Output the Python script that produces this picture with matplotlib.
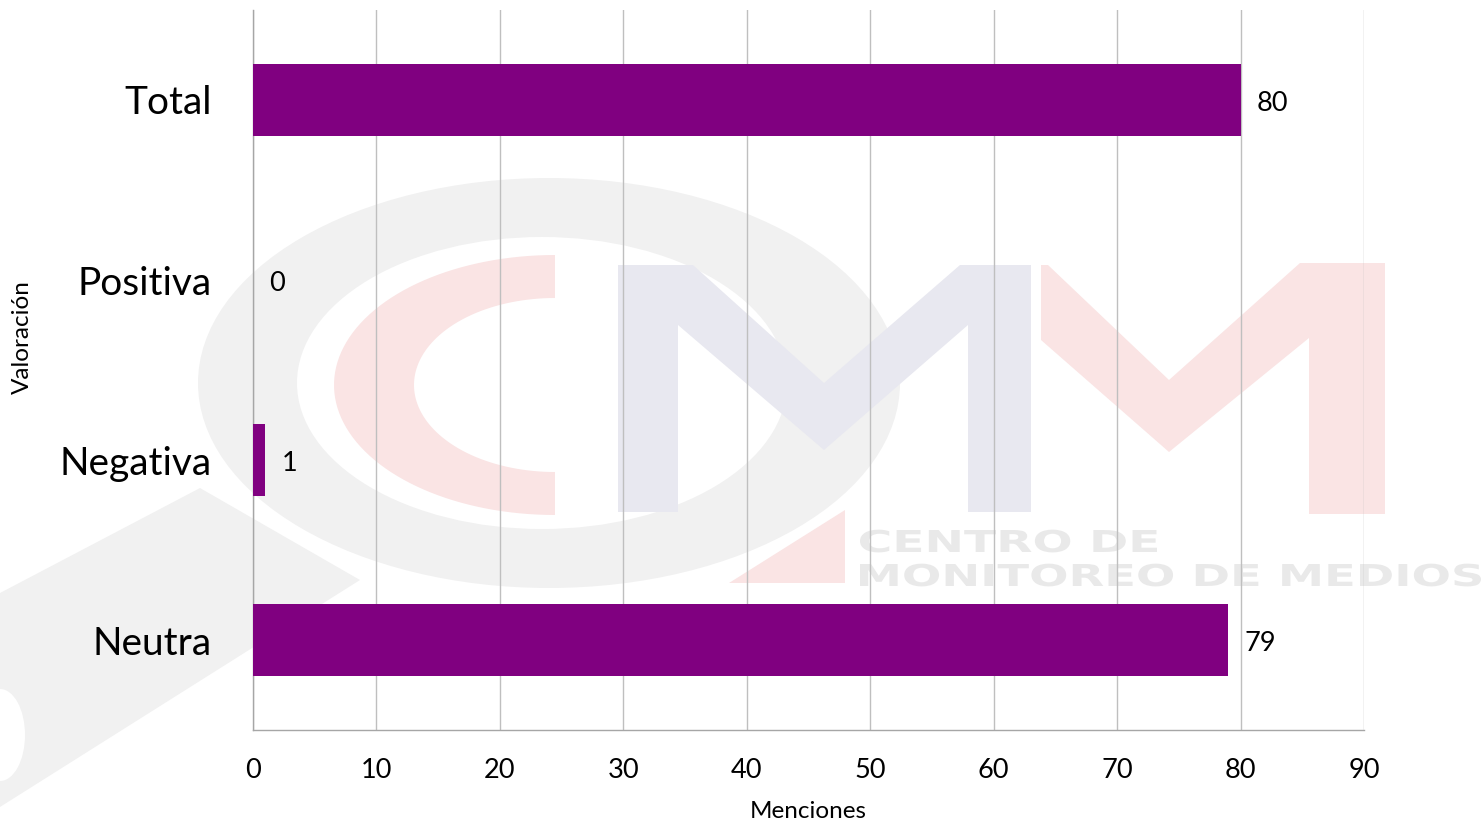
import matplotlib
matplotlib.use("Agg")
import matplotlib.pyplot as plt
from matplotlib.patches import Ellipse, Polygon, PathPatch
from matplotlib.transforms import IdentityTransform, Affine2D
from matplotlib.textpath import TextPath
from matplotlib.font_manager import FontProperties
import numpy as np

plt.rcParams['font.family'] = ['Lato', 'DejaVu Sans']

categories = ["Neutra", "Negativa", "Positiva", "Total"]
values = [79, 1, 0, 80]
xticks = [0, 10, 20, 30, 40, 50, 60, 70, 80, 90]
bar_color = "#800080"

W, H = 1481, 822
fig = plt.figure(figsize=(W / 100, H / 100), dpi=100)
fig.patch.set_facecolor("white")

def fx(x):
    return x / W

def fy(y):
    return 1 - y / H

ID = IdentityTransform()

def pix(pts):
    return [(x, H - y) for x, y in pts]

def add_bg(artist):
    artist.set_zorder(-10)
    fig.add_artist(artist)

GREY = "#f1f1f1"
PINK = "#fae4e4"
BLUE = "#e8e8f0"

# --- faint watermark (background decoration) ---
# magnifier handle
add_bg(Polygon(pix([(0, 593), (200, 488), (360, 580), (0, 807)]), closed=True,
               facecolor=GREY, edgecolor="none", transform=ID))
add_bg(Ellipse((0, H - 735), 50, 92, facecolor="white", edgecolor="none", transform=ID))
# ring
add_bg(Ellipse((549, H - 383), 702, 410, facecolor=GREY, edgecolor="none", transform=ID))
add_bg(Ellipse((542, H - 383), 490, 292, facecolor="white", edgecolor="none", transform=ID))

# pink C (half elliptical ring)
t = np.linspace(np.pi / 2, 3 * np.pi / 2, 80)
outer = [(555 + 221 * np.cos(a), 385 - 130 * np.sin(a)) for a in t]
inner = [(555 + 141 * np.cos(a), 385 - 87 * np.sin(a)) for a in t[::-1]]
add_bg(Polygon(pix(outer + inner), closed=True, facecolor=PINK, edgecolor="none", transform=ID))

# grey-blue M
add_bg(Polygon(pix([(618, 512), (618, 265), (693, 265), (824, 383), (960, 265), (1031, 265),
                    (1031, 512), (968, 512), (968, 325), (824, 450), (678, 325), (678, 512)]),
               closed=True, facecolor=BLUE, edgecolor="none", transform=ID))
# pink M
add_bg(Polygon(pix([(1041, 340), (1041, 265), (1048, 265), (1169, 380), (1300, 263), (1385, 263),
                    (1385, 514), (1309, 514), (1309, 338), (1169, 452)]),
               closed=True, facecolor=PINK, edgecolor="none", transform=ID))
add_bg(Polygon(pix([(729, 583), (845, 510), (845, 583)]), closed=True,
               facecolor=PINK, edgecolor="none", transform=ID))

# watermark lettering, stretched to fit
fp = FontProperties(family="DejaVu Sans", weight="bold")
for s, x0, x1, ybase in [("CENTRO DE", 860, 1157, 552), ("MONITOREO DE MEDIOS", 860, 1481, 586)]:
    tp = TextPath((0, 0), s, size=30, prop=fp)
    ext = tp.get_extents()
    sx = (x1 - x0) / ext.width
    sy = 22 / 21.9
    tr = Affine2D().translate(-ext.x0, 0).scale(sx, sy).translate(x0, H - ybase) + ID
    add_bg(PathPatch(tp, facecolor="#e9e9e9", edgecolor="none", transform=tr))

# --- chart ---
ax = fig.add_axes([fx(253), fy(730), fx(1364) - fx(253), fy(10) - fy(730)])
ax.patch.set_alpha(0)
ypos = np.arange(len(categories))
ax.barh(ypos, values, height=0.4, color=bar_color, zorder=3)
ax.set_xlim(0, 90)
ax.set_ylim(-0.5, 3.5)
ax.set_xticks(xticks)
ax.set_xticklabels([str(t) for t in xticks], fontsize=19.5)
ax.set_yticks(ypos)
ax.set_yticklabels(categories, fontsize=28)
ax.tick_params(axis="x", length=0, pad=20)
ax.tick_params(axis="y", length=0, pad=29.5)
ax.grid(axis="x", color="#bfbfbf", linewidth=1.0, zorder=1)
ax.set_axisbelow(True)
for s in ("top", "right"):
    ax.spines[s].set_visible(False)
for s in ("left", "bottom"):
    ax.spines[s].set_color("#a6a6a6")
    ax.spines[s].set_linewidth(1.0)

for y, v in zip(ypos, values):
    ax.annotate(str(v), xy=(v, y), xytext=(11.5, -2.2), textcoords="offset points",
                fontsize=19.5, va="center", ha="left", color="black")

ax.set_xlabel("Menciones", fontsize=17.5, labelpad=13)
fig.text(fx(22), fy(337), "Valoración", rotation=90, fontsize=17.5, va="center", ha="center")

fig.savefig("out.png", dpi=100, facecolor="white")
